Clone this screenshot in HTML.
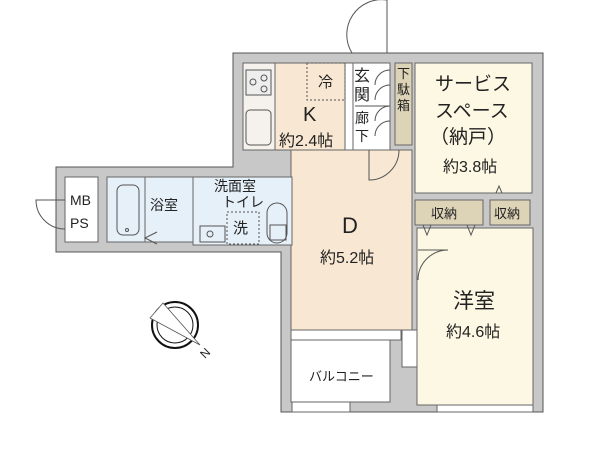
<!DOCTYPE html>
<html><head><meta charset="utf-8"><style>
body{margin:0;background:#fff}
svg text{font-family:"Liberation Sans","Noto Sans CJK JP",sans-serif;fill:#222}
</style></head><body>
<svg width="600" height="450" viewBox="0 0 600 450" xmlns="http://www.w3.org/2000/svg">
<g fill="#c8c8c8" stroke="#555" stroke-width="1">
<polygon points="233,53 543,53 543,412 281,412 281,252 56,252 56,167 233,167"/>
</g>
<g stroke="#666" stroke-width="1">
<rect x="243" y="63" width="102" height="87" fill="#f8e8d3"/>
<rect x="243" y="63" width="32" height="87" fill="#f5f1ec"/>
<rect x="291" y="150" width="121" height="180" fill="#f8e8d3"/>
<rect x="345" y="63" width="8" height="87" fill="#fff"/>
<rect x="353" y="63" width="37" height="87" fill="#fff"/>
<rect x="395" y="63" width="17" height="82" fill="#ddd3b6"/>
<rect x="415" y="63" width="117" height="130" fill="#fdf8e3"/>
<rect x="415" y="200" width="68" height="25" fill="#ddd3b6"/>
<rect x="490" y="200" width="40" height="25" fill="#ddd3b6"/>
<rect x="417" y="228" width="116" height="177" fill="#fdf8e3"/>
<rect x="65" y="177" width="33" height="65" fill="#fff"/>
<rect x="107" y="177" width="38" height="65" fill="#e6f0f8"/>
<rect x="145" y="177" width="48" height="65" fill="#e6f0f8"/>
<rect x="193" y="177" width="99" height="68" fill="#e6f0f8"/>
<rect x="291" y="340" width="99" height="62" fill="#fff"/>
<rect x="292" y="402" width="58" height="10" fill="#fff"/>
<rect x="291" y="330" width="110" height="10" fill="#fff"/>
<rect x="402" y="330" width="15" height="37" fill="#fff"/>
<rect x="437" y="405" width="96" height="7" fill="#fff"/>
</g>
<g fill="none" stroke="#555">
<rect x="246" y="70" width="25" height="25" fill="#eee"/>
<circle cx="253" cy="82" r="3"/><circle cx="264" cy="78" r="3"/><circle cx="264" cy="89" r="3"/>
<rect x="246" y="110" width="25" height="35" rx="4"/>
<rect x="307" y="63" width="38" height="37" stroke-dasharray="2,2"/>
<rect x="117" y="185" width="22" height="50" rx="6"/>
<circle cx="127" cy="230" r="1.5"/>
<rect x="200" y="226" width="25" height="16"/>
<circle cx="210" cy="234" r="3"/>
<rect x="227" y="212" width="32" height="32" stroke-dasharray="2,2"/>
<rect x="267" y="203" width="20" height="40" rx="10"/>
<rect x="270" y="225" width="16" height="15"/>
<path d="M387,53 L387,0 A35,35 0 0 0 352,53"/>
<path d="M369,150 L369,180 A30,30 0 0 0 399,150"/>
<path d="M418,250 L448,250 A30,30 0 0 0 418,280"/>
<path d="M65,200 L36,200 A29,29 0 0 0 65,229"/>
<line x1="355" y1="106" x2="390" y2="106"/>
<path d="M390,70 A15,15 0 0 0 375,85 M390,85 A15,15 0 0 0 375,100 M390,106 A15,15 0 0 0 375,121 M390,121 A15,15 0 0 0 375,136"/>
<path d="M157,244 L145,238 L157,232"/>
<path d="M496,193 L499,186 L502,193 M423,225 L427,235 L431,225 M467,225 L471,235 L475,225"/>
</g>
<g>
<circle cx="175" cy="325" r="23" fill="none" stroke="#111" stroke-width="2"/>
<circle cx="175" cy="325" r="18" fill="none" stroke="#111" stroke-width="1"/>
<polygon points="163,303 200,345 168,318" fill="#111"/>
<polygon points="163,303 150,318 200,345" fill="#fff" stroke="#555" stroke-width="0.8"/>
<text x="200" y="357" font-size="12" transform="rotate(-45 205 352)">N</text>
</g>
<g>
<text x="318" y="87" font-size="15">冷</text>
<text x="303" y="121" font-size="20">K</text>
<text x="279" y="146" font-size="16">約2.4帖</text>
<text x="354" y="81" font-size="16">玄</text>
<text x="354" y="100" font-size="16">関</text>
<text x="355" y="123" font-size="14">廊</text>
<text x="355" y="141" font-size="14">下</text>
<text x="397" y="78" font-size="13">下</text>
<text x="397" y="94" font-size="13">駄</text>
<text x="397" y="110" font-size="13">箱</text>
<text x="435" y="90" font-size="19">サービス</text>
<text x="435" y="117" font-size="19">スペース</text>
<text x="430" y="143" font-size="19">（納戸）</text>
<text x="443" y="172" font-size="16">約3.8帖</text>
<text x="431" y="218" font-size="13">収納</text>
<text x="494" y="218" font-size="13">収納</text>
<text x="342" y="233" font-size="22">D</text>
<text x="320" y="263" font-size="16">約5.2帖</text>
<text x="453" y="308" font-size="21">洋室</text>
<text x="446" y="337" font-size="16">約4.6帖</text>
<text x="309" y="381" font-size="13">バルコニー</text>
<text x="150" y="210" font-size="14">浴室</text>
<text x="214" y="191" font-size="14">洗面室</text>
<text x="222" y="207" font-size="14">トイレ</text>
<text x="233" y="233" font-size="15">洗</text>
<text x="70" y="205" font-size="14">MB</text>
<text x="70" y="228" font-size="14">PS</text>
</g>
</svg>
</body></html>
